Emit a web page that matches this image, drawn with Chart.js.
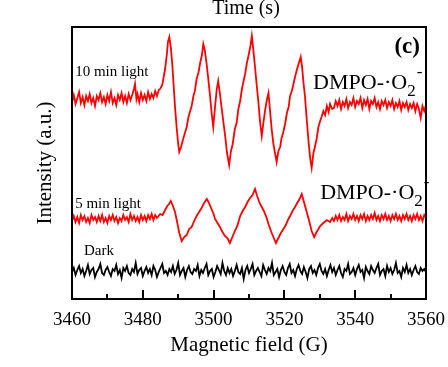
<!DOCTYPE html>
<html>
<head>
<meta charset="utf-8">
<script src="https://cdn.jsdelivr.net/npm/chart.js@4.4.1/dist/chart.umd.min.js"></script>
<style>
  html, body { margin: 0; padding: 0; background: #fff; }
</style>
</head>
<body>
<canvas id="eprChart" width="448" height="367"></canvas>
<script>
// Magnetic field (G) and intensity (a.u.) pairs
const light10 = [
  [3460,197],[3460.5,204],[3461,195],[3461.5,201],[3462,207],[3462.5,196],[3463,202],[3463.5,194],[3464,203],[3464.5,198],
  [3465,205],[3465.5,196],[3466,201],[3466.5,193],[3467,203],[3467.5,199],[3468,206],[3468.5,197],[3469,202],[3469.5,195],
  [3470,204],[3470.5,198],[3471,207],[3471.5,196],[3472,201],[3472.5,194],[3473,204],[3473.5,199],[3474,206],[3474.5,197],
  [3475,203],[3475.5,196],[3476,205],[3476.5,199],[3477,204],[3477.5,210],[3477.8,215],[3478.2,200],[3478.5,205],[3479,197],
  [3479.5,206],[3480,199],[3480.5,204],[3481,198],[3481.5,207],[3482,200],[3482.5,205],[3483,201],[3483.5,208],[3484,203],
  [3484.5,209],[3484.9,210],[3485.5,214],[3486.3,230],[3486.8,245],
  [3487.1,257],[3487.5,262],[3487.9,252],[3488.3,236],[3488.6,220],[3489.1,192],[3489.6,170],[3490.0,155],[3490.3,147],[3490.8,152],
  [3491.4,160],[3491.9,166],[3492.4,172],[3492.9,182],[3493.3,187],[3493.8,193],[3494.3,203],[3494.7,208],[3495.2,220],[3495.7,226],
  [3496.2,236],[3496.7,244],[3497.1,255],[3497.5,249],[3498.0,236],[3498.5,220],[3499.0,203],[3499.5,184],[3499.9,172],[3500.4,192],
  [3500.9,210],[3501.3,218],[3501.8,205],[3502.3,190],[3502.8,176],[3503.3,162],[3503.8,146],[3504.4,134],[3504.9,148],[3505.4,155],
  [3506.0,170],[3506.5,176],[3507.0,190],[3507.5,198],[3508.0,210],[3508.4,217],[3508.9,225],[3509.4,236],[3509.9,244],[3510.4,253],
  [3510.8,263],[3511.2,250],[3511.7,232],[3512.2,213],[3512.7,195],[3513.1,178],[3513.6,163],[3514.1,177],[3514.6,190],[3515.1,200],
  [3515.5,206],[3516.0,186],[3516.4,170],[3516.9,155],[3517.4,145],[3517.8,137],[3518.3,148],[3518.8,152],[3519.2,161],[3519.7,167],
  [3520.2,175],[3520.7,186],[3521.2,192],[3521.6,203],[3522.1,208],[3522.5,214],[3523.0,222],[3523.5,229],[3524.0,235],[3524.6,242],
  [3525.0,232],[3525.4,216],[3525.8,203],[3526.3,180],[3526.8,158],[3527.3,140],[3527.7,131],[3528.2,146],[3528.6,152],[3529.1,160],
  [3529.6,172],[3530.1,178],[3530.5,182],[3531.0,188],[3531.5,184],[3532.0,193],[3532.5,187],[3532.9,195],[3533.5,190],
  [3534,191],[3534.5,198],[3535,193],[3535.5,199],[3536,190],[3536.5,197],[3537,193],[3537.5,200],[3538,191],[3538.5,197],
  [3539,194],[3539.5,201],[3540,192],[3540.5,198],[3541,195],[3541.5,201],[3542,191],[3542.5,199],[3543,194],[3543.5,200],
  [3544,190],[3544.5,198],[3545,195],[3545.5,201],[3546,192],[3546.5,197],[3547,190],[3547.5,198],[3548,194],[3548.5,199],
  [3549,191],[3549.5,197],[3550,193],[3550.5,199],[3551,190],[3551.5,196],[3552,192],[3552.5,198],[3553,189],[3553.5,196],
  [3554,192],[3554.5,197],[3555,189],[3555.5,195],[3556,191],[3556.5,196],[3557,188],[3557.5,195],[3558,190],[3558.5,181],
  [3559,193],[3559.5,188],[3560,194]
];

const light5 = [
  [3460,78],[3460.5,83],[3461,77],[3461.5,82],[3462,76],[3462.5,84],[3463,79],[3463.5,83],[3464,77],[3464.5,81],
  [3465,76],[3465.5,84],[3466,79],[3466.5,82],[3467,77],[3467.5,83],[3468,78],[3468.5,84],[3469,77],[3469.5,81],
  [3470,76],[3470.5,83],[3471,79],[3471.5,84],[3472,78],[3472.5,82],[3473,76],[3473.5,81],[3474,78],[3474.5,84],
  [3475,79],[3475.5,82],[3476,77],[3476.5,85],[3477,79],[3477.5,83],[3478,78],[3478.5,82],[3479,77],[3479.5,84],
  [3480,79],[3480.5,83],[3481,78],[3481.5,84],[3482,80],[3482.5,85],[3483,79],[3483.5,84],[3484.0,81],[3484.9,85],
  [3485.6,84],[3486.3,89],[3486.9,93],[3487.4,95],
  [3487.9,98],[3488.5,93],[3489.1,87],[3489.7,77],[3490.3,66],[3491.0,58],[3491.7,62],[3492.4,64],[3493.1,70],[3493.8,72],
  [3494.5,78],[3495.2,83],[3495.9,87],[3496.6,91],[3497.3,96],[3498.1,100],[3498.7,96],[3499.4,90],[3500.0,85],[3500.4,80],
  [3501.1,76],[3501.8,72],[3502.5,67],[3503.2,63],[3503.9,61],[3504.6,56],[3505.3,62],[3506.0,68],[3506.7,73],[3507.5,83],
  [3508.2,88],[3508.9,92],[3509.6,97],[3510.3,101],[3511.0,104],[3511.7,110],[3512.3,103],[3513.0,96],[3513.6,92],[3514.2,88],
  [3514.9,82],[3515.6,74],[3516.3,67],[3517.0,61],[3517.6,56],[3518.3,61],[3519.0,66],[3519.7,70],[3520.4,74],[3521.0,79],
  [3521.6,83],[3522.3,88],[3523.0,92],[3523.6,96],[3524.3,100],[3524.9,105],[3525.6,96],[3526.3,87],[3527.0,78],[3527.7,68],
  [3528.4,62],[3529.1,67],[3530.1,73],[3531.0,76],[3532.0,79],[3532.9,77],
  [3533.5,81],[3534,78],[3534.5,83],[3535,79],[3535.5,84],[3536,78],[3536.5,82],[3537,79],[3537.5,85],[3538,78],
  [3538.5,83],[3539,80],[3539.5,85],[3540,79],[3540.5,83],[3541,78],[3541.5,84],[3542,80],[3542.5,85],[3543,78],
  [3543.5,83],[3544,79],[3544.5,84],[3545,80],[3545.5,86],[3546,79],[3546.5,83],[3547,78],[3547.5,84],[3548,80],
  [3548.5,85],[3549,79],[3549.5,83],[3550,78],[3550.5,84],[3551,80],[3551.5,85],[3552,79],[3552.5,83],[3553,78],
  [3553.5,84],[3554,80],[3554.5,85],[3555,79],[3555.5,83],[3556,78],[3556.5,84],[3557,80],[3557.5,85],[3558,79],
  [3558.5,83],[3559,78],[3559.5,84],[3560,81]
];

const dark = [
  [3460,27],[3460.5,31],[3461,24],[3461.5,29],[3462,33],[3462.5,26],[3463,30],[3463.5,23],[3464,28],[3464.5,34],
  [3465,25],[3465.5,29],[3466,31],[3466.5,22],[3467,27],[3467.5,30],[3468,35],[3468.5,26],[3469,24],[3469.5,29],
  [3470,32],[3470.5,27],[3471,23],[3471.5,30],[3472,28],[3472.5,34],[3473,25],[3473.5,29],[3474,21],[3474.5,31],
  [3475,28],[3475.5,33],[3476,26],[3476.5,24],[3477,30],[3477.5,27],[3478,36],[3478.5,25],[3479,29],[3479.5,31],
  [3480,23],[3480.5,28],[3481,32],[3481.5,26],[3482,30],[3482.5,24],[3483,33],[3483.5,29],[3484,22],[3484.5,27],
  [3485,31],[3485.5,35],[3486,26],[3486.5,28],[3487,24],[3487.5,30],[3488,27],[3488.5,33],[3489,25],[3489.5,29],
  [3490,36],[3490.5,24],[3491,28],[3491.5,31],[3492,22],[3492.5,29],[3493,33],[3493.5,27],[3494,25],[3494.5,30],
  [3495,28],[3495.5,34],[3496,23],[3496.5,29],[3497,26],[3497.5,31],[3498,35],[3498.5,24],[3499,28],[3499.5,30],
  [3500,22],[3500.5,27],[3501,33],[3501.5,29],[3502,25],[3502.5,36],[3503,28],[3503.5,24],[3504,31],[3504.5,26],
  [3505,30],[3505.5,23],[3506,28],[3506.5,34],[3507,27],[3507.5,25],[3508,31],[3508.5,20],[3509,29],[3509.5,33],
  [3510,26],[3510.5,30],[3511,35],[3511.5,24],[3512,28],[3512.5,31],[3513,27],[3513.5,23],[3514,34],[3514.5,29],
  [3515,25],[3515.5,31],[3516,28],[3516.5,36],[3517,24],[3517.5,27],[3518,30],[3518.5,22],[3519,29],[3519.5,33],
  [3520,27],[3520.5,24],[3521,31],[3521.5,35],[3522,26],[3522.5,29],[3523,23],[3523.5,30],[3524,34],[3524.5,28],
  [3525,25],[3525.5,32],[3526,27],[3526.5,21],[3527,30],[3527.5,33],[3528,26],[3528.5,29],[3529,24],[3529.5,31],
  [3530,35],[3530.5,28],[3531,25],[3531.5,30],[3532,23],[3532.5,29],[3533,34],[3533.5,27],[3534,31],[3534.5,24],
  [3535,29],[3535.5,33],[3536,26],[3536.5,22],[3537,30],[3537.5,28],[3538,35],[3538.5,25],[3539,27],[3539.5,31],
  [3540,24],[3540.5,30],[3541,34],[3541.5,27],[3542,29],[3542.5,21],[3543,32],[3543.5,28],[3544,25],[3544.5,33],
  [3545,29],[3545.5,26],[3546,31],[3546.5,35],[3547,24],[3547.5,28],[3548,30],[3548.5,23],[3549,33],[3549.5,27],
  [3550,31],[3550.5,25],[3551,29],[3551.5,36],[3552,26],[3552.5,28],[3553,22],[3553.5,31],[3554,27],[3554.5,34],
  [3555,26],[3555.5,30],[3556,24],[3556.5,29],[3557,33],[3557.5,27],[3558,25],[3558.5,31],[3559,28],[3559.5,30],
  [3560,27]
];

const majorTicks = [3460, 3480, 3500, 3520, 3540, 3560];
const minorTicks = [3470, 3490, 3510, 3530, 3550];

// text notes, placed in data space (field, intensity)
const notes = [
  { text: '10 min light', field: 3460.9, value: 227, size: 15 },
  { text: '5 min light', field: 3460.9, value: 95, size: 15 },
  { text: 'Dark', field: 3463.4, value: 48, size: 15 },
  { text: '(c)', field: 3558.3, value: 246, size: 23, bold: true, align: 'right', baseline: 'alphabetic' }
];
const radicalNotes = [
  { field: 3528.1, value: 210 },
  { field: 3530.1, value: 100 }
];

const serif = '"Liberation Serif", "Times New Roman", serif';
const toPoints = pairs => pairs.map(p => ({ x: p[0], y: p[1] }));

const framePlugin = {
  id: 'frame',
  afterDatasetsDraw(chart) {
    const { ctx, chartArea: { left, right, top, bottom }, scales: { x } } = chart;
    ctx.save();
    ctx.strokeStyle = '#000';
    ctx.lineWidth = 2;
    ctx.strokeRect(left, top, right - left, bottom - top);
    // inward ticks on the bottom axis
    ctx.beginPath();
    majorTicks.forEach(v => {
      const px = Math.round(x.getPixelForValue(v));
      ctx.moveTo(px, bottom);
      ctx.lineTo(px, bottom - 9);
    });
    minorTicks.forEach(v => {
      const px = Math.round(x.getPixelForValue(v));
      ctx.moveTo(px, bottom);
      ctx.lineTo(px, bottom - 5);
    });
    ctx.stroke();
    ctx.restore();
  }
};

const notesPlugin = {
  id: 'notes',
  afterDraw(chart) {
    const { ctx, scales: { x, y } } = chart;
    ctx.save();
    ctx.fillStyle = '#000';
    notes.forEach(n => {
      ctx.font = (n.bold ? 'bold ' : '') + n.size + 'px ' + serif;
      ctx.textAlign = n.align || 'left';
      ctx.textBaseline = n.baseline || 'middle';
      ctx.fillText(n.text, x.getPixelForValue(n.field), y.getPixelForValue(n.value));
    });

    // DMPO-·O2- with subscript and superscript
    ctx.textAlign = 'left';
    ctx.textBaseline = 'alphabetic';
    radicalNotes.forEach(n => {
      let px = x.getPixelForValue(n.field);
      const py = y.getPixelForValue(n.value);
      ctx.font = '22px ' + serif;
      ctx.fillText('DMPO-\u00b7O', px, py);
      px += ctx.measureText('DMPO-\u00b7O').width;
      ctx.font = '17px ' + serif;
      ctx.fillText('2', px, py + 7);
      px += ctx.measureText('2').width;
      ctx.fillText('-', px + 1, py - 12);
    });

    // clipped axis titles of the neighbouring panels
    ctx.font = '20px ' + serif;
    ctx.textAlign = 'center';
    ctx.fillText('Time (s)', 246, 14);
    ctx.fillStyle = 'rgba(60, 60, 80, 0.5)';
    ctx.font = '21px ' + serif;
    ctx.textBaseline = 'middle';
    ctx.translate(457, 155);
    ctx.rotate(-Math.PI / 2);
    ctx.fillText('Intensity (a.u.)', 0, 0);
    ctx.restore();
  }
};

const ctx = document.getElementById('eprChart').getContext('2d');
new Chart(ctx, {
  type: 'line',
  data: {
    datasets: [
      { label: '10 min light', data: toPoints(light10), borderColor: '#ff0000', borderWidth: 1.8 },
      { label: '5 min light', data: toPoints(light5), borderColor: '#ff0000', borderWidth: 1.8 },
      { label: 'Dark', data: toPoints(dark), borderColor: '#000000', borderWidth: 1.8 }
    ]
  },
  options: {
    responsive: false,
    animation: false,
    devicePixelRatio: 1,
    elements: { point: { radius: 0 }, line: { tension: 0 } },
    layout: { padding: { top: 27, right: 22, left: 0, bottom: 0 } },
    plugins: { legend: { display: false }, tooltip: { enabled: false } },
    scales: {
      x: {
        type: 'linear',
        min: 3460,
        max: 3560,
        afterBuildTicks: scale => { scale.ticks = majorTicks.map(v => ({ value: v })); },
        afterFit: scale => {
          scale.height = 68;
          scale.paddingLeft = 0;
          scale.paddingRight = 0;
        },
        grid: { display: false, drawTicks: false },
        border: { display: false },
        ticks: {
          padding: 10,
          color: '#000',
          font: { family: serif, size: 19 },
          maxRotation: 0,
          callback: v => String(v)
        },
        title: {
          display: true,
          text: 'Magnetic field (G)',
          color: '#000',
          font: { family: serif, size: 21 },
          padding: { top: 0, bottom: 9 }
        }
      },
      y: {
        min: 0,
        max: 272,
        afterFit: scale => { scale.width = 72; },
        grid: { display: false, drawTicks: false },
        border: { display: false },
        ticks: { display: false },
        title: {
          display: true,
          text: 'Intensity (a.u.)',
          color: '#000',
          font: { family: serif, size: 21 },
          padding: { top: 33, bottom: 0 }
        }
      }
    }
  },
  plugins: [framePlugin, notesPlugin]
});
</script>
</body>
</html>
